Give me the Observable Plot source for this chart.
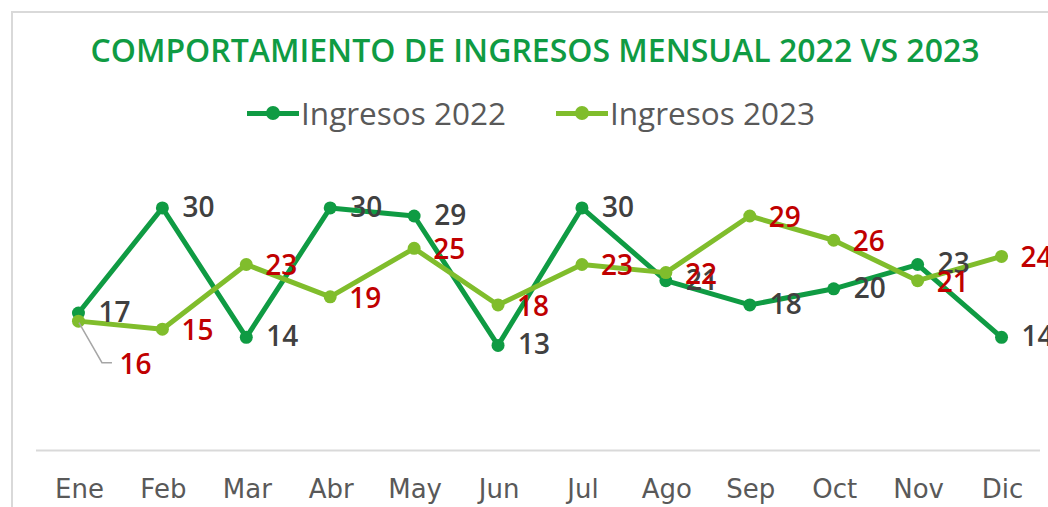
<!DOCTYPE html>
<html>
<head>
<meta charset="utf-8">
<script src="https://cdn.jsdelivr.net/npm/d3@7"></script>
<script src="https://cdn.jsdelivr.net/npm/@observablehq/plot@0.6"></script>
<style>
  html, body { margin: 0; padding: 0; background: #fff; overflow: hidden; width: 1048px; height: 507px; }
  #frame { position: absolute; left: 11px; top: 11px; width: 1100px; height: 600px; border: 2px solid #d9d9d9; box-sizing: border-box; }
  #title { position: absolute; left: 12px; width: 1046px; top: 28px; text-align: center; font-family: "Open Sans", sans-serif; font-weight: 600; font-size: 32px; color: #0F9B43; white-space: nowrap; }
  #legend { position: absolute; left: 8px; width: 1046px; top: 91px; display: flex; justify-content: center; gap: 50px; font-family: "Open Sans", sans-serif; font-size: 31.5px; color: #595959; }
  .item { display: flex; align-items: center; }
  .sw { position: relative; width: 52px; height: 14px; margin-right: 2px; }
  .sw .ln { position: absolute; left: 0; right: 0; top: 5px; height: 5px; }
  .sw .dt { position: absolute; left: 19px; top: 0; width: 14px; height: 14px; border-radius: 50%; }
  #chart { position: absolute; left: 0; top: 140px; }
</style>
</head>
<body>
<div id="frame"></div>
<div id="title"></div>
<div id="legend"></div>
<div id="chart"></div>
<script>
const title = "COMPORTAMIENTO DE INGRESOS MENSUAL 2022 VS 2023";
const months = ["Ene","Feb","Mar","Abr","May","Jun","Jul","Ago","Sep","Oct","Nov","Dic"];
const v2022 = [17,30,14,30,29,13,30,21,18,20,23,14];
const v2023 = [16,15,23,19,25,18,23,22,29,26,21,24];
const seriesNames = ["Ingresos 2022","Ingresos 2023"];
const colors = ["#0F9B43","#80BD2C"];

document.getElementById("title").textContent = title;
const leg = document.getElementById("legend");
seriesNames.forEach((n, i) => {
  const it = document.createElement("div"); it.className = "item";
  it.innerHTML = `<div class="sw"><div class="ln" style="background:${colors[i]}"></div><div class="dt" style="background:${colors[i]}"></div></div><span>${n}</span>`;
  leg.appendChild(it);
});

const d22 = months.map((m, i) => ({month: m, value: v2022[i]}));
const d23 = months.map((m, i) => ({month: m, value: v2023[i]}));

const leader = (index, scales) => {
  const x = scales.x(months[0]), y = scales.y(v2023[0]);
  return d3.create("svg:path")
    .attr("d", `M${x + 1},${y + 2}L${x + 24},${y + 42}H${x + 34}`)
    .attr("fill", "none").attr("stroke", "#a6a6a6").attr("stroke-width", 1.5).node();
};

const chart = Plot.plot({
  width: 1048,
  height: 367,
  marginLeft: 36,
  marginRight: 5,
  marginTop: 27,
  marginBottom: 57,
  style: {fontFamily: "Open Sans, sans-serif", background: "transparent"},
  x: {type: "point", domain: months, padding: 0.5, round: false, axis: null},
  y: {domain: [0, 35], axis: null},
  marks: [
    Plot.ruleY([0], {stroke: "#d9d9d9", strokeWidth: 2, insetRight: 3}),
    Plot.axisX({tickSize: 0, tickPadding: 29, fontSize: 26, fill: "#595959", label: null, fontFamily: "DejaVu Sans", letterSpacing: 2.5, dx: 1}),
    Plot.line(d22, {x: "month", y: "value", stroke: colors[0], strokeWidth: 5}),
    Plot.dot(d22, {x: "month", y: "value", fill: colors[0], r: 6.5}),
    Plot.line(d23, {x: "month", y: "value", stroke: colors[1], strokeWidth: 5}),
    Plot.dot(d23, {x: "month", y: "value", fill: colors[1], r: 6.5}),
    leader,
    Plot.text(d22, {x: "month", y: "value", text: "value", dx: 20, textAnchor: "start", fontSize: 28, fontWeight: 600, fill: "#404040"}),
    Plot.text(d23.slice(1), {x: "month", y: "value", text: "value", dx: 19, dy: 2, textAnchor: "start", fontSize: 28, fontWeight: 600, fill: "#C00000"}),
    Plot.text(d23.slice(0, 1), {x: "month", y: "value", text: "value", dx: 41, dy: 44, textAnchor: "start", fontSize: 28, fontWeight: 600, fill: "#C00000"})
  ]
});
document.getElementById("chart").appendChild(chart);
</script>
</body>
</html>
